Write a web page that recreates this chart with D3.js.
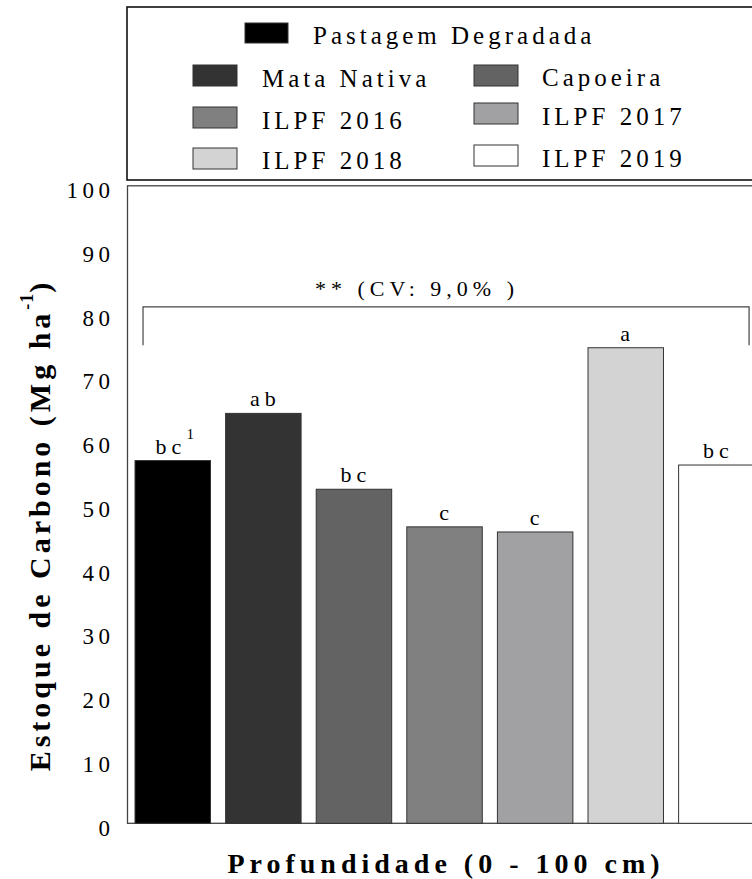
<!DOCTYPE html>
<html>
<head>
<meta charset="utf-8">
<script src="https://cdn.jsdelivr.net/npm/d3@7"></script>
<style>
  html, body { margin: 0; padding: 0; background: #ffffff; }
  svg { display: block; }
  text { font-family: "Liberation Serif", "Times New Roman", "DejaVu Serif", serif; fill: #000; }
</style>
</head>
<body>
<svg id="chart" width="752" height="879"></svg>
<script>
// Soil carbon stock (0-100 cm) per land use
const categories = ["Pastagem Degradada", "Mata Nativa", "Capoeira", "ILPF 2016", "ILPF 2017", "ILPF 2018", "ILPF 2019"];
const stocks = [56.9, 64.3, 52.4, 46.5, 45.7, 74.6, 56.2];
const letters = ["bc", "ab", "bc", "c", "c", "a", "bc"];
const fills = ["#000000", "#333333", "#636363", "#808080", "#a1a1a4", "#d3d3d3", "#ffffff"];
const yTicks = [0, 10, 20, 30, 40, 50, 60, 70, 80, 90, 100];
const statsNote = "** (CV: 9,0% )";
const bracketRange = [75, 81];

const svg = d3.select("#chart");
svg.append("rect").attr("width", 752).attr("height", 879).attr("fill", "#fff");

const plot = { left: 127.5, right: 761.6, top: 185.8, bottom: 823.3 };

const x = d3.scaleBand()
  .domain(categories)
  .range([plot.left, plot.right])
  .paddingInner(0.167)
  .paddingOuter(0.083);

const y = d3.scaleLinear()
  .domain([0, 100])
  .range([plot.bottom, plot.top]);

// Legend box
const legend = svg.append("g");
legend.append("rect")
  .attr("x", 127).attr("y", 7)
  .attr("width", 640).attr("height", 173)
  .attr("fill", "none").attr("stroke", "#111").attr("stroke-width", 1.6);

// legend slots: [swatch x, swatch y, swatch w, swatch h, text x, text baseline]
const legendSlots = [
  [245, 23, 43, 20, 313, 44],
  [193, 65, 44, 21, 262, 86.5],
  [474, 65, 44, 21, 542, 86],
  [193, 107, 44, 21, 262, 129],
  [474, 103, 44, 21, 542, 124.5],
  [193, 148, 44, 21, 262, 168.5],
  [474, 145, 44, 21, 542, 166.5]
];

categories.forEach((c, i) => {
  const s = legendSlots[i];
  legend.append("rect")
    .attr("x", s[0]).attr("y", s[1]).attr("width", s[2]).attr("height", s[3])
    .attr("fill", fills[i]).attr("stroke", "#333").attr("stroke-width", 1);
  legend.append("text")
    .attr("x", s[4]).attr("y", s[5])
    .attr("font-size", 25).attr("letter-spacing", 4)
    .text(c);
});

// Plot frame
svg.append("rect")
  .attr("x", plot.left).attr("y", plot.top)
  .attr("width", plot.right - plot.left).attr("height", plot.bottom - plot.top)
  .attr("fill", "none").attr("stroke", "#444").attr("stroke-width", 1.3);

// Y axis labels
const yAxis = svg.append("g")
  .attr("transform", `translate(${plot.left},0)`)
  .call(d3.axisLeft(y).tickValues(yTicks).tickSize(0).tickPadding(0).tickFormat(d3.format("d")));
yAxis.select(".domain").remove();
yAxis.selectAll("text")
  .attr("x", -13)
  .attr("dy", "0.32em")
  .attr("transform", "translate(0,4.5)")
  .attr("font-size", 23)
  .attr("letter-spacing", 4.5)
  .attr("fill", "#000");

// Bars
svg.append("g").selectAll("rect")
  .data(categories)
  .join("rect")
  .attr("x", d => x(d))
  .attr("y", (d, i) => y(stocks[i]))
  .attr("width", x.bandwidth())
  .attr("height", (d, i) => y(0) - y(stocks[i]))
  .attr("fill", (d, i) => fills[i])
  .attr("stroke", "#333").attr("stroke-width", 1);

// Mean comparison letters
const lbl = svg.append("g").selectAll("text")
  .data(categories)
  .join("text")
  .attr("x", d => x(d) + x.bandwidth() / 2 + 2)
  .attr("y", (d, i) => y(stocks[i]) - 7)
  .attr("text-anchor", "middle")
  .attr("font-size", 22)
  .attr("letter-spacing", 5)
  .text((d, i) => letters[i]);
lbl.filter((d, i) => i === 0)
  .append("tspan")
  .attr("dy", -15).attr("font-size", 15).attr("letter-spacing", 0)
  .text("1");

// Significance bracket
const bx0 = x(categories[0]) + 8;
const bx1 = x(categories[categories.length - 1]) + x.bandwidth() - 5;
svg.append("path")
  .attr("d", `M${bx0},${y(bracketRange[0])}V${y(bracketRange[1])}H${bx1}V${y(bracketRange[0])}`)
  .attr("fill", "none").attr("stroke", "#444").attr("stroke-width", 1.2);
svg.append("text")
  .attr("x", 315).attr("y", 296)
  .attr("font-size", 22).attr("letter-spacing", 5)
  .text(statsNote);

// Axis titles
svg.append("text")
  .attr("x", 446).attr("y", 873)
  .attr("text-anchor", "middle")
  .attr("font-size", 28).attr("font-weight", "bold").attr("letter-spacing", 5)
  .text("Profundidade (0 - 100 cm)");

const yt = svg.append("text")
  .attr("transform", "translate(50,525) rotate(-90)")
  .attr("text-anchor", "middle")
  .attr("font-size", 30).attr("font-weight", "bold").attr("letter-spacing", 4);
yt.append("tspan").text("Estoque de Carbono (Mg ha");
yt.append("tspan").attr("dy", -17).attr("font-size", 18).attr("letter-spacing", 1).text("-1");
yt.append("tspan").attr("dy", 17).text(")");
</script>
</body>
</html>
